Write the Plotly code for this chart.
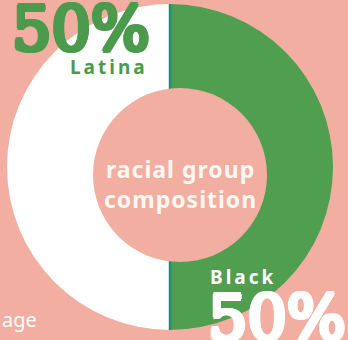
import plotly.graph_objects as go

# Data
labels = ["Black", "Latina"]
values = [50, 50]
pct_labels = ["50%", "50%"]
title_lines = ["racial group", "composition"]
slice_colors = ["#509E50", "#FFFFFF"]

BG = "#F2AEA0"
W, H = 348, 340

def px(x):
    return x / W

def py(y):
    return 1 - y / H

dom_x = [px(7), px(333)]
dom_y = [py(330), py(4)]

fig = go.Figure(
    go.Pie(
        labels=labels,
        values=values,
        sort=False,
        direction="clockwise",
        rotation=0,
        hole=0.4,
        textinfo="none",
        hoverinfo="label+percent",
        marker=dict(colors=slice_colors, line=dict(width=0)),
        domain=dict(x=dom_x, y=dom_y),
        showlegend=False,
    )
)

# thin teal divider along the slice boundary
cx = (dom_x[0] + dom_x[1]) / 2
fig.add_shape(type="line", xref="paper", yref="paper",
              x0=cx, x1=cx, y0=dom_y[0], y1=dom_y[1],
              line=dict(color="#1E8C78", width=2.5), layer="above")
# offset centre hole
fig.add_shape(type="circle", xref="paper", yref="paper",
              x0=px(93), x1=px(267), y0=py(262), y1=py(88),
              fillcolor=BG, line=dict(width=0), layer="above")


def heavy(color, r=1.6):
    offs = [(r, 0), (-r, 0), (0, r), (0, -r), (r * 0.7, r * 0.7), (-r * 0.7, r * 0.7),
            (r * 0.7, -r * 0.7), (-r * 0.7, -r * 0.7), (r * 0.5, 0), (-r * 0.5, 0)]
    return ", ".join(f"{a:.1f}px {b:.1f}px 0 {color}" for a, b in offs)


ann = []
big_font = "DejaVu Serif"
sans = "Noto Sans"
GREEN_T = "#4C9A4C"
# Latina
ann.append(dict(x=px(10), y=py(28), text=pct_labels[1], xanchor="left", yanchor="middle",
                font=dict(family=big_font, size=62, color=GREEN_T,
                          shadow=heavy(GREEN_T, 2.4))))
ann.append(dict(x=px(150), y=py(67), text='<span style="letter-spacing:3px">' + labels[1] + '</span>',
                xanchor="right", yanchor="middle",
                font=dict(family=sans, size=19, color=GREEN_T, weight="bold")))
# Black
ann.append(dict(x=px(208), y=py(277), text='<span style="letter-spacing:3px">' + labels[0] + '</span>',
                xanchor="left", yanchor="middle",
                font=dict(family=sans, size=19, color="#FFFFFF", weight="bold")))
ann.append(dict(x=px(206), y=py(317), text=pct_labels[0], xanchor="left", yanchor="middle",
                font=dict(family=big_font, size=62, color="#FFFFFF",
                          shadow=heavy("#FFFFFF", 2.4))))
# centre
ann.append(dict(x=px(181), y=py(184),
                text='<span style="letter-spacing:1px">' + "<br>".join(title_lines) + '</span>',
                xanchor="center", yanchor="middle",
                font=dict(family=sans, size=23, color="#FFF8F2", weight="bold")))
# bottom-left clipped caption
ann.append(dict(x=px(0), y=py(319), text="age", xanchor="left", yanchor="middle",
                font=dict(family=sans, size=20, color="#FFFFFF")))

for a in ann:
    a.update(xref="paper", yref="paper", showarrow=False)

fig.update_layout(
    width=W, height=H,
    margin=dict(l=0, r=0, t=0, b=0),
    paper_bgcolor=BG, plot_bgcolor=BG,
    annotations=ann,
)

fig.write_html("out.html")
